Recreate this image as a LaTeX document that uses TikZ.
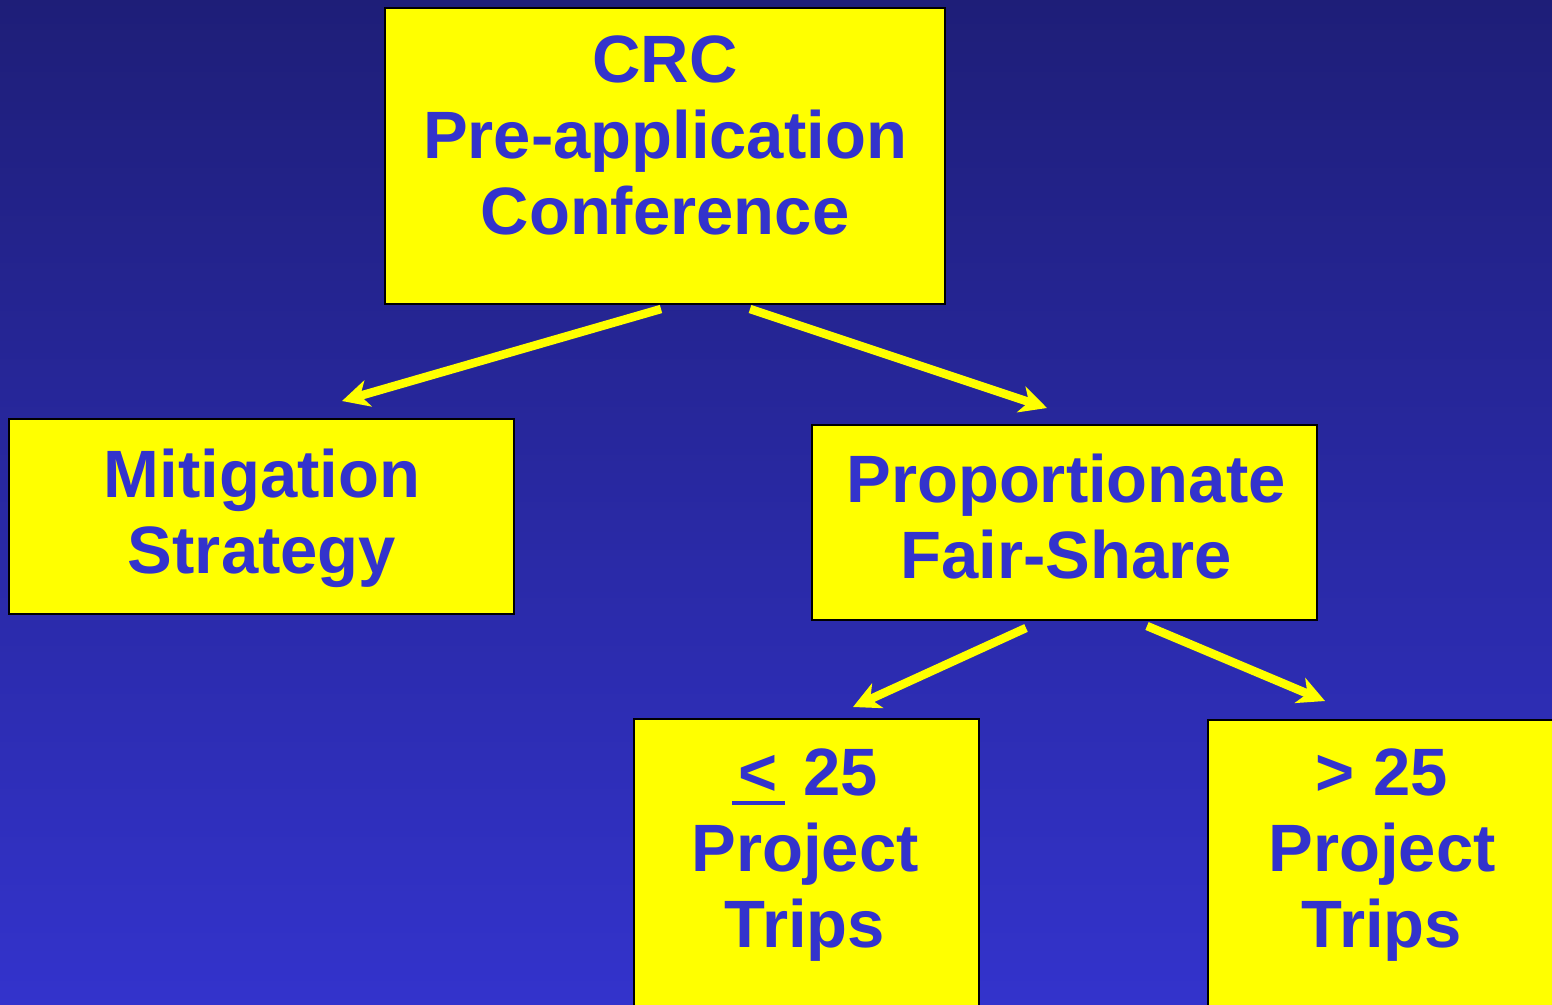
\documentclass[tikz,border=0pt]{standalone}
\usepackage{fontspec}
\setmainfont{Liberation Sans}
\usetikzlibrary{arrows.meta}
\definecolor{bgtop}{RGB}{30,30,120}
\definecolor{bgbot}{RGB}{51,51,204}
\definecolor{txtblue}{RGB}{51,51,204}
\definecolor{boxyellow}{RGB}{255,255,0}
\newcommand{\ulless}{\makebox[53pt][c]{\smash{\rlap{\hspace*{-7pt}\rule[-9pt]{53pt}{3.8pt}}}<}}
\tikzset{
  box/.style={draw=black, line width=2pt, fill=boxyellow, inner sep=0pt, rectangle},
  lbl/.style={text=txtblue, inner sep=0pt, align=center, anchor=north,
              font=\bfseries\fontsize{67}{76}\selectfont},
  arr/.style={draw=boxyellow, line width=8.5pt,
              -{Stealth[length=27pt, width=27pt, inset=8pt]}}
}
\begin{document}
\begin{tikzpicture}[x=1pt, y=-1pt]
  \useasboundingbox (0,0) rectangle (1552,1004);
  \shade[top color=bgtop, bottom color=bgbot] (0,0) rectangle (1552,1004);

  % boxes
  \node[box, minimum width=560pt, minimum height=296pt] (crc) at (665,156) {};
  \node[box, minimum width=505pt, minimum height=195pt] (mit) at (261.5,516.5) {};
  \node[box, minimum width=505pt, minimum height=195pt] (pfs) at (1064.5,522.5) {};
  \node[box, minimum width=345pt, minimum height=300pt] (le) at (806.5,869) {};
  \node[box, minimum width=360pt, minimum height=300pt] (gt) at (1388,870) {};

  % labels
  \node[lbl] (crct) at (665,36) {CRC\\Pre-application\\Conference};
  \node[lbl] (mitt) at (262,449) {Mitigation\\Strategy};
  \node[lbl] (pfst) at (1066,454) {Proportionate\\Fair-Share};
  \node[lbl] (let) at (805,749) {\ulless\ 25\\Project\\Trips};
  \node[lbl] (gtt) at (1382,749) {> 25\\Project\\Trips};

  % connector ends
  \coordinate (a1s) at (661,309);
  \coordinate (a1e) at (342,401);
  \coordinate (a2s) at (750,309);
  \coordinate (a2e) at (1047,408);
  \coordinate (a3s) at (1026,628);
  \coordinate (a3e) at (853,707);
  \coordinate (a4s) at (1147,626);
  \coordinate (a4e) at (1325,701);

  \draw[arr] (a1s) -- (a1e);
  \draw[arr] (a2s) -- (a2e);
  \draw[arr] (a3s) -- (a3e);
  \draw[arr] (a4s) -- (a4e);
\end{tikzpicture}
\end{document}
